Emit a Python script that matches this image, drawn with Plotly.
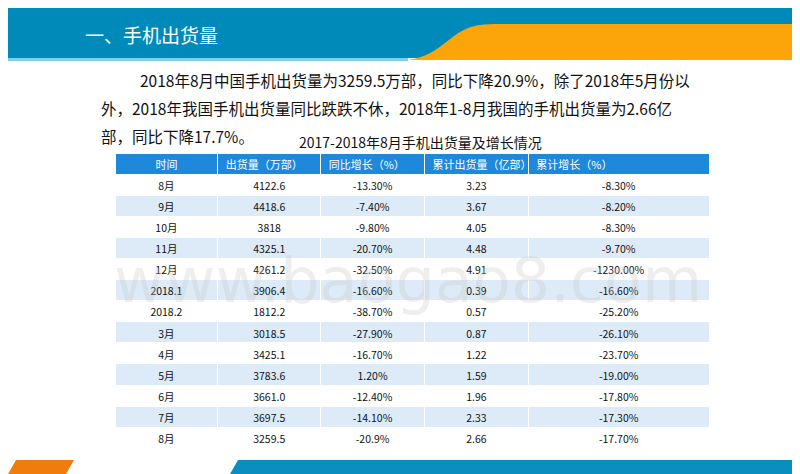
import plotly.graph_objects as go

W, H = 800, 474

headers = ["时间", "出货量（万部）", "同比增长（%）", "累计出货量（亿部）", "累计增长（%）"]
months = ["8月", "9月", "10月", "11月", "12月", "2018.1", "2018.2", "3月", "4月", "5月", "6月", "7月", "8月"]
shipments = ["4122.6", "4418.6", "3818", "4325.1", "4261.2", "3906.4", "1812.2", "3018.5", "3425.1", "3783.6", "3661.0", "3697.5", "3259.5"]
yoy = ["-13.30%", "-7.40%", "-9.80%", "-20.70%", "-32.50%", "-16.60%", "-38.70%", "-27.90%", "-16.70%", "1.20%", "-12.40%", "-14.10%", "-20.9%"]
cum = ["3.23", "3.67", "4.05", "4.48", "4.91", "0.39", "0.57", "0.87", "1.22", "1.59", "1.96", "2.33", "2.66"]
cum_growth = ["-8.30%", "-8.20%", "-8.30%", "-9.70%", "-1230.00%", "-16.60%", "-25.20%", "-26.10%", "-23.70%", "-19.00%", "-17.80%", "-17.30%", "-17.70%"]

font = "Noto Sans CJK SC"
row_fill = ["white" if i % 2 == 0 else "#DDEBF8" for i in range(len(months))]

fig = go.Figure()
fig.add_trace(go.Table(
    domain=dict(x=[107 / W, 702 / W], y=[1 - 460 / H, 1 - 145 / H]),
    columnwidth=[103, 103, 104, 104, 181],
    header=dict(values=headers, fill_color="#1E88DA", line_color="white", line_width=1,
                font=dict(family=font, size=11, color="white"), height=21,
                align=["center", "left", "left", "left", "left"]),
    cells=dict(values=[months, shipments, yoy, cum, cum_growth],
               fill_color=[row_fill] * 5, line_color="white", line_width=1,
               font=dict(family=font, size=10.5, color="#111"), height=21.1,
               align="center"),
))

shapes = [
    dict(type="rect", xref="paper", yref="paper", x0=0, x1=1, y0=1 - 50 / H, y1=1,
         fillcolor="#008ABA", line_width=0, layer="below"),
    dict(type="path", xref="paper", yref="paper",
         path=f"M {400/W} {1-52/H} C {430/W} {1-48/H} {440/W} {1-28/H} {460/W} {1-20/H} "
              f"C {470/W} {1-16/H} {480/W} {1-16/H} {500/W} {1-16/H} L 1 {1-16/H} L 1 {1-52/H} Z",
         fillcolor="#FBA50A", line_width=0, layer="below"),
    dict(type="rect", xref="paper", yref="paper", x0=0, x1=400 / W, y0=1 - 53 / H, y1=1 - 50 / H,
         fillcolor="#7FD0EC", line_width=0, layer="below"),
    dict(type="path", xref="paper", yref="paper",
         path=f"M 0 {1-466/H} L {58/W} {1-466/H} L {66/W} {1-452/H} L {8/W} {1-452/H} Z",
         fillcolor="#F07C0E", line_width=0),
    dict(type="path", xref="paper", yref="paper",
         path=f"M {222/W} {1-466/H} L 1 {1-466/H} L 1 {1-452/H} L {230/W} {1-452/H} Z",
         fillcolor="#0A8DBF", line_width=0),
    dict(type="rect", xref="paper", yref="paper", x0=796 / W, x1=1, y0=0, y1=1,
         fillcolor="#8A8A8A", line_width=0),
]

ann = [
    dict(text="一、手机出货量", x=75 / W, y=1 - 26 / H, xanchor="left", yanchor="middle",
         font=dict(family=font, size=19, color="white")),
    dict(text="2018年8月中国手机出货量为3259.5万部，同比下降20.9%，除了2018年5月份以", x=130 / W, y=1 - 72 / H,
         xanchor="left", yanchor="middle", font=dict(family=font, size=15.5, color="#111")),
    dict(text="外，2018年我国手机出货量同比跌跌不休，2018年1-8月我国的手机出货量为2.66亿", x=91 / W, y=1 - 100 / H,
         xanchor="left", yanchor="middle", font=dict(family=font, size=15.5, color="#111")),
    dict(text="部，同比下降17.7%。", x=91 / W, y=1 - 128 / H,
         xanchor="left", yanchor="middle", font=dict(family=font, size=15.5, color="#111")),
    dict(text="2017-2018年8月手机出货量及增长情况", x=412 / W, y=1 - 134 / H,
         xanchor="center", yanchor="middle", font=dict(family=font, size=14, color="#111")),
    dict(text="www.baogao8.com", x=0.5, y=1 - 272 / H, xanchor="center", yanchor="middle",
         font=dict(family="DejaVu Sans", size=62, color="rgba(200,200,200,0.3)")),
]
for a in ann:
    a.update(xref="paper", yref="paper", showarrow=False)

fig.update_layout(width=W, height=H, margin=dict(l=0, r=0, t=0, b=0),
                  paper_bgcolor="white", plot_bgcolor="white",
                  shapes=shapes, annotations=ann)
fig.write_html("out.html")
